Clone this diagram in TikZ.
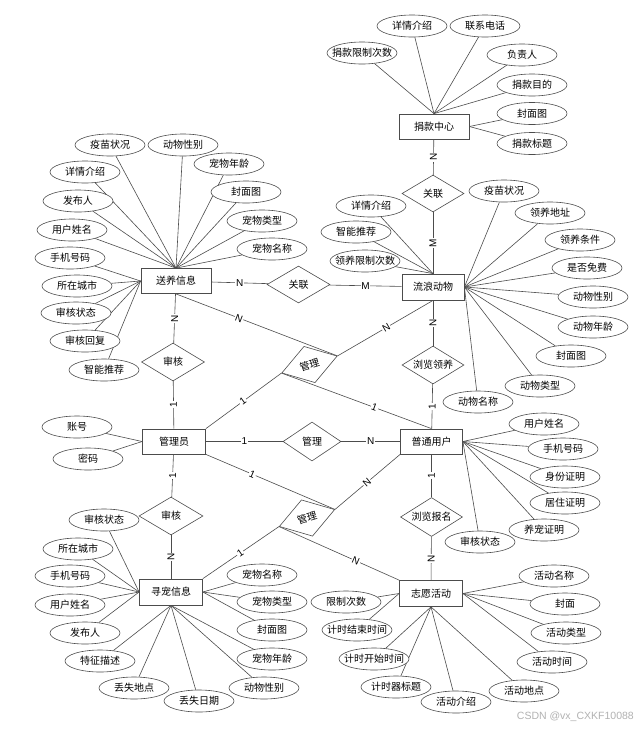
\documentclass[tikz,border=0pt]{standalone}
\usepackage{fontspec}
\setmainfont{Noto Sans CJK SC}
\newfontfamily\latinf{Liberation Sans}
\usetikzlibrary{shapes.geometric}
\pgfdeclarelayer{bg}
\pgfdeclarelayer{paper}
\pgfsetlayers{paper,bg,main}
\tikzset{
 ln/.style={draw=black!70, line width=0.6pt},
 cjkf/.style={font=\fontsize{10}{12}\selectfont},
 ent/.style={rectangle, draw=black!70, line width=0.8pt, fill=white, minimum width=63pt, minimum height=25pt, inner sep=0pt, cjkf},
 attr/.style={ellipse, draw=black!70, line width=0.6pt, fill=white, minimum width=70pt, minimum height=22pt, inner xsep=-12pt, inner ysep=0pt, cjkf},
 rel/.style={diamond, draw=black!70, line width=0.6pt, fill=white, minimum width=62pt, minimum height=38pt, inner sep=0pt, aspect=1.6, cjkf},
 lbl/.style={fill=white, inner sep=0.8pt, font=\latinf\fontsize{10}{12}\selectfont},
 lblv/.style={lbl, rotate=90},
 lbls/.style={lbl, sloped},
}
\newcommand{\myattr}[5]{\node[attr] (#1) at (#2) {#3};
 \begin{pgfonlayer}{bg}\draw[ln] (#4.#5) -- (#1);\end{pgfonlayer}}
\begin{document}
\begin{tikzpicture}[x=1pt,y=-1pt]
\begin{pgfonlayer}{paper}
\fill[white] (0,0) rectangle (640,729);
\end{pgfonlayer}
\useasboundingbox (0,0) rectangle (640,729);

% entities
\node[ent, minimum width=70pt] (jk) at (434,126.5) {捐款中心};
\node[ent, minimum width=70pt] (sy) at (176,281) {送养信息};
\node[ent, minimum width=62pt, minimum height=26pt] (ll) at (433,287) {流浪动物};
\node[ent] (gly) at (174,441.5) {管理员};
\node[ent, minimum width=62pt] (pt) at (431.5,441.5) {普通用户};
\node[ent, minimum height=26pt] (xc) at (171,592) {寻宠信息};
\node[ent, minimum height=26pt] (zy) at (431,593.5) {志愿活动};

% relationships
\node[rel, minimum height=37pt] (gl1) at (433,193.5) {关联};
\node[rel, minimum width=63pt, minimum height=37pt] (gl2) at (298.5,284.5) {关联};
\node[rel, minimum width=63pt] (sh1) at (173,362) {审核};
\node[rel] (lly) at (433,365) {浏览领养};
\node[rel, minimum width=58pt, minimum height=39pt] (gm) at (312,441.5) {管理};
\node[rel, minimum width=64pt] (sh2) at (171,516) {审核};
\node[rel, minimum height=39pt] (llb) at (431.5,517) {浏览报名};
\node[rel, rotate=17, minimum width=58pt, minimum height=38pt] (gd1) at (309.5,364.5) {管理};
\node[rel, rotate=17, minimum width=58pt, minimum height=38pt] (gd2) at (307,518) {管理};

% relationship connectors
\begin{pgfonlayer}{bg}
\draw[ln] (jk) -- node[lblv]{N} (gl1);
\draw[ln] (gl1) -- node[lblv]{M} (ll);
\draw[ln] (sy) -- node[lbl]{N} (gl2);
\draw[ln] (gl2) -- node[lbl]{M} (ll);
\draw[ln] (sy) -- node[lblv]{N} (sh1);
\draw[ln] (sh1) -- node[lblv]{1} (gly);
\draw[ln] (gly) -- node[lblv]{1} (sh2);
\draw[ln] (sh2) -- node[lblv]{N} (xc);
\draw[ln] (ll) -- node[lblv]{N} (lly);
\draw[ln] (lly) -- node[lblv]{1} (pt);
\draw[ln] (pt) -- node[lblv]{1} (llb);
\draw[ln] (llb) -- node[lblv]{N} (zy);
\draw[ln] (gly) -- node[lbl]{1} (gm);
\draw[ln] (gm) -- node[lbl]{N} (pt);
\draw[ln] (sy.south) -- node[lbls, pos=0.39]{N} (gd1.east);
\draw[ln] (gd1.east) -- node[lbls, pos=0.51]{N} (ll.south);
\draw[ln] (gly.north east) -- node[lbls, pos=0.49]{1} (gd1.west);
\draw[ln] (gd1.west) -- node[lbls, pos=0.62]{1} (pt.north);
\draw[ln] (gly.south east) -- node[lbls, pos=0.36]{1} (gd2.east);
\draw[ln] (gd2.east) -- node[lbls, pos=0.49]{N} (pt.south west);
\draw[ln] (xc.north east) -- node[lbls, pos=0.49]{1} (gd2.west);
\draw[ln] (gd2.west) -- node[lbls, pos=0.64]{N} (zy.north west);
\end{pgfonlayer}

% 捐款中心
\myattr{j1}{362,53}{捐款限制次数}{jk}{north}
\myattr{j2}{412,26}{详情介绍}{jk}{north}
\myattr{j3}{485,26}{联系电话}{jk}{north}
\myattr{j4}{522,55}{负责人}{jk}{north}
\myattr{j5}{532,85}{捐款目的}{jk}{north}
\myattr{j6}{532,113.5}{封面图}{jk}{east}
\myattr{j7}{532,143.5}{捐款标题}{jk}{east}

% 送养信息
\myattr{s1}{110,145}{疫苗状况}{sy}{north}
\myattr{s2}{183,145}{动物性别}{sy}{north}
\myattr{s3}{229,164}{宠物年龄}{sy}{north}
\myattr{s4}{85,172}{详情介绍}{sy}{north}
\myattr{s5}{246,192}{封面图}{sy}{north}
\myattr{s6}{78,201}{发布人}{sy}{north}
\myattr{s7}{262,221}{宠物类型}{sy}{north}
\myattr{s8}{72,230}{用户姓名}{sy}{north}
\myattr{s9}{272,249}{宠物名称}{sy}{north}
\myattr{s10}{70,258}{手机号码}{sy}{west}
\myattr{s11}{77,286}{所在城市}{sy}{west}
\myattr{s12}{76,313}{审核状态}{sy}{west}
\myattr{s13}{85,341}{审核回复}{sy}{west}
\myattr{s14}{104,370}{智能推荐}{sy}{west}

% 流浪动物
\myattr{l1}{371,206}{详情介绍}{ll}{north}
\myattr{l2}{356,232}{智能推荐}{ll}{north}
\myattr{l3}{365,261}{领养限制次数}{ll}{north}
\myattr{l4}{504,191}{疫苗状况}{ll}{east}
\myattr{l5}{550,213}{领养地址}{ll}{east}
\myattr{l6}{580,240}{领养条件}{ll}{east}
\myattr{l7}{587,268}{是否免费}{ll}{east}
\myattr{l8}{593,297}{动物性别}{ll}{east}
\myattr{l9}{593,327}{动物年龄}{ll}{east}
\myattr{l10}{571,356}{封面图}{ll}{east}
\myattr{l11}{540,386}{动物类型}{ll}{east}
\myattr{l12}{478,402}{动物名称}{ll}{east}

% 管理员
\myattr{g1}{77,427}{账号}{gly}{west}
\myattr{g2}{88,459}{密码}{gly}{west}

% 普通用户
\myattr{p1}{544,424}{用户姓名}{pt}{east}
\myattr{p2}{563,449}{手机号码}{pt}{east}
\myattr{p3}{565,477}{身份证明}{pt}{east}
\myattr{p4}{565,503}{居住证明}{pt}{east}
\myattr{p5}{544,530}{养宠证明}{pt}{east}
\myattr{p6}{480,542}{审核状态}{pt}{east}

% 寻宠信息
\myattr{x1}{104,520}{审核状态}{xc}{west}
\myattr{x2}{78,549}{所在城市}{xc}{west}
\myattr{x3}{70,576}{手机号码}{xc}{west}
\myattr{x4}{70,605}{用户姓名}{xc}{west}
\myattr{x5}{85,633}{发布人}{xc}{west}
\myattr{x6}{100,661}{特征描述}{xc}{south}
\myattr{x7}{134,688}{丢失地点}{xc}{south}
\myattr{x8}{199,701}{丢失日期}{xc}{south}
\myattr{x9}{264,688}{动物性别}{xc}{south}
\myattr{x10}{272,659}{宠物年龄}{xc}{south}
\myattr{x11}{272,630}{封面图}{xc}{east}
\myattr{x12}{272,602}{宠物类型}{xc}{east}
\myattr{x13}{262,575}{宠物名称}{xc}{east}

% 志愿活动
\myattr{z1}{554,576}{活动名称}{zy}{east}
\myattr{z2}{565,604}{封面}{zy}{east}
\myattr{z3}{566,633}{活动类型}{zy}{east}
\myattr{z4}{552,662}{活动时间}{zy}{east}
\myattr{z5}{524,691}{活动地点}{zy}{south}
\myattr{z6}{456,702}{活动介绍}{zy}{south}
\myattr{z7}{396,687}{计时器标题}{zy}{south}
\myattr{z8}{374,659}{计时开始时间}{zy}{south}
\myattr{z9}{357,630}{计时结束时间}{zy}{west}
\myattr{z10}{346,602}{限制次数}{zy}{west}

\node[font=\latinf\fontsize{10.5}{12}\selectfont, text=black!30, anchor=east, inner sep=0pt] (wm) at (634,717) {CSDN @vx\_CXKF10088};
\end{tikzpicture}
\end{document}
